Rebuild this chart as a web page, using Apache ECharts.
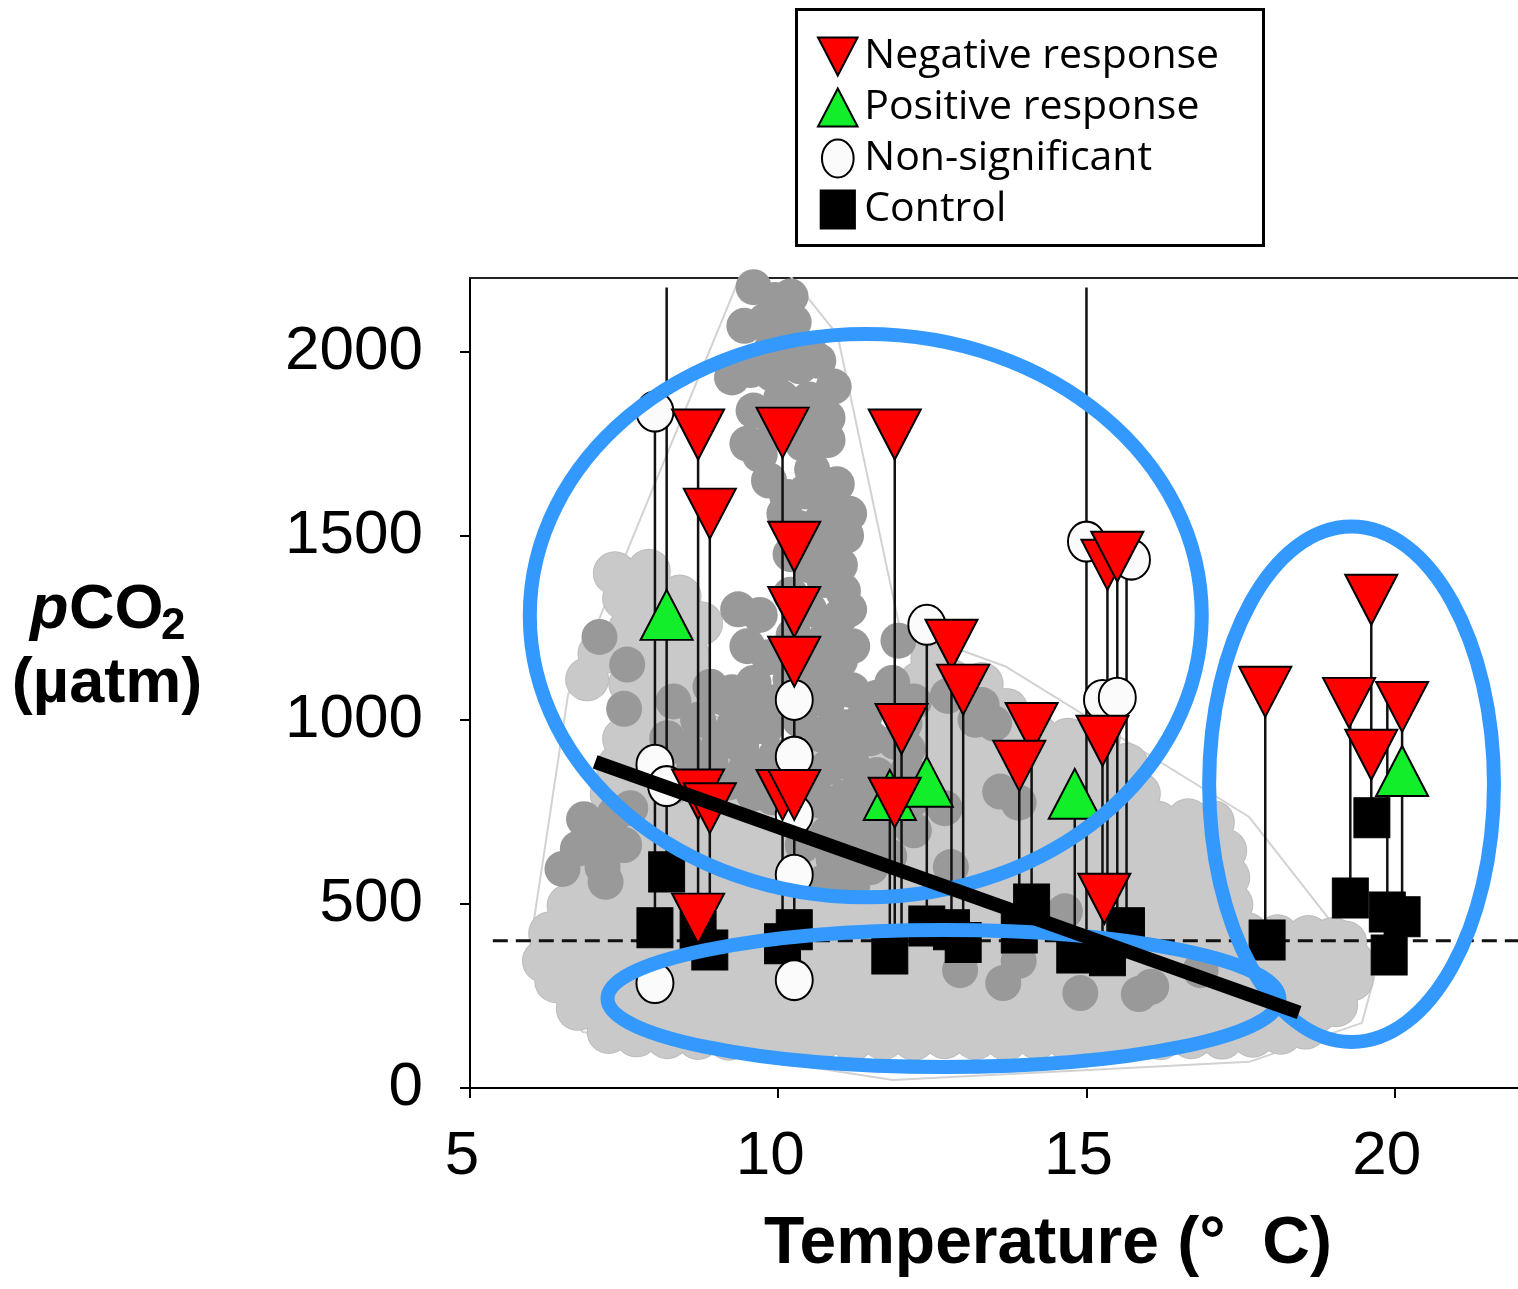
<!DOCTYPE html>
<html lang="en">
<head>
<meta charset="UTF-8">
<title>pCO2 vs temperature</title>
<script src="https://cdn.jsdelivr.net/npm/echarts@6.0.0/dist/echarts.min.js"></script>
<style>
  html, body { margin: 0; padding: 0; background: #fff; }
  #chart { width: 1518px; height: 1289px; }
</style>
</head>
<body>
<div id="chart"></div>
<script>
// ---- values ----
var xTicks = [5, 10, 15, 20];
var yTicks = [0, 500, 1000, 1500, 2000];

// experiments: [temperature, pCO2]
var negative = [
  [8.70,1775],[8.89,1560],[8.70,797],[8.89,760],[8.70,460],
  [10.07,1780],[10.26,1470],[10.26,1293],[10.26,1158],[10.07,796],[10.26,796],
  [11.89,1775],[12.00,975],[11.89,775],[12.81,1204],[13.00,1082],
  [14.11,978],[13.91,875],[15.26,943],[15.29,514],[15.34,1421],[15.50,1443],
  [17.90,1076],[19.26,1046],[19.62,1326],[20.12,1035],[19.62,905]
];
var positive = [[8.19,1285],[11.81,796],[12.41,832],[14.81,799],[20.12,861]];
var nonSignificant = [
  [8.00,1837],[8.00,878],[8.19,820],[8.00,285],
  [10.26,1054],[10.26,900],[10.26,742],[10.26,579],[10.26,293],
  [12.41,1258],[15.00,1484],[15.73,1435],[15.26,1054],[15.50,1060]
];
var control = [
  [8.00,435],[8.19,587],[8.70,425],[8.89,375],[10.07,392],[10.26,430],
  [11.81,364],[12.41,440],[12.81,430],[13.00,395],[13.91,421],[14.11,500],
  [14.81,367],[15.34,359],[15.65,435],[17.93,402],
  [19.63,734],[19.28,516],[19.88,478],[20.12,465],[19.91,361]
];
// vertical links: [temperature, low pCO2, high pCO2]
var stems = [
  [8.00,435,1837],[8.19,587,2174],[8.70,425,1775],[8.89,375,1560],
  [10.07,392,1780],[10.26,430,1470],[11.81,364,796],[11.89,364,1775],
  [12.00,389,975],[12.41,440,1258],[12.81,430,1204],[13.00,395,1082],
  [13.91,421,875],[14.11,500,978],[14.81,367,799],[15.00,380,2174],
  [15.26,359,1054],[15.34,359,1421],[15.50,435,1443],[15.65,435,1435],
  [17.90,402,1076],[19.28,516,1046],[19.62,734,1326],[19.88,478,1050],[20.12,465,1035]
];

// field observations, light grey
var lightCloud = [
  [7.25,152],[7.7,143],[8.2,138],[8.7,136],[9.2,134],[9.7,137],[10.2,133],[10.7,136],[11.2,132],[11.7,135],[12.2,134],[12.7,138],
  [13.2,135],[13.7,133],[14.2,137],[14.7,134],[15.2,136],[15.7,139],[16.2,135],[16.7,138],[17.2,137],[17.7,142],[18.15,150],[18.55,164],
  [6.75,215],[7.2,198],[7.7,196],[8.2,202],[8.7,195],[9.2,199],[9.7,203],[10.2,197],[10.7,200],[11.2,196],[11.7,202],[12.2,198],[12.7,195],
  [13.2,201],[13.7,197],[14.2,203],[14.7,199],[15.2,196],[15.7,200],[16.2,204],[16.7,198],[17.2,195],[17.7,201],[18.2,198],[18.7,205],[19.05,225],
  [6.4,290],[6.8,272],[7.2,278],[7.7,270],[8.2,276],[8.7,280],[9.2,271],[9.7,277],[10.2,274],[10.7,279],[11.2,270],[11.7,276],[12.2,281],[12.7,273],
  [13.2,277],[13.7,270],[14.2,275],[14.7,280],[15.2,272],[15.7,276],[16.2,279],[16.7,271],[17.2,277],[17.7,274],[18.2,280],[18.7,273],[19.1,278],[19.3,295],
  [6.2,345],[6.6,352],[7.0,348],[7.5,355],[8.0,346],[8.5,351],[9.0,354],[9.5,347],[10.0,352],[10.5,349],[11.0,356],[11.5,345],[12.0,350],[12.5,353],
  [13.0,347],[13.5,355],[14.0,349],[14.5,352],[15.0,346],[15.5,354],[16.0,350],[16.5,347],[17.0,353],[17.5,349],[18.0,355],[18.5,348],[19.0,352],[19.3,345],
  [6.3,420],[6.7,428],[7.1,424],[7.6,430],[8.1,421],[8.6,426],[9.1,429],[9.6,422],[10.1,427],[10.6,431],[11.1,423],[11.6,428],[12.1,425],[12.6,420],
  [13.1,429],[13.6,424],[14.1,430],[14.6,422],[15.1,427],[15.6,425],[16.1,421],[16.6,428],[17.1,424],[17.6,418],[18.1,412],[18.6,410],[19.0,405],[19.2,395],
  [6.6,495],[7.0,502],[7.5,498],[8.0,505],[8.5,497],[9.0,503],[9.5,499],[10.0,506],[10.5,496],[11.0,501],[11.5,504],[12.0,498],
  [12.5,502],[13.0,495],[13.5,500],[14.0,505],[14.5,497],[15.0,503],[15.5,499],[16.0,504],[16.5,496],[17.0,501],[17.35,498],
  [6.95,570],[7.4,578],[7.9,572],[8.4,580],[8.9,574],[9.4,569],[9.9,577],[10.4,573],[10.9,579],[11.4,571],[11.9,576],
  [12.4,580],[12.9,572],[13.4,577],[13.9,570],[14.4,575],[14.9,581],[15.4,573],[15.9,578],[16.4,571],[16.9,576],[17.3,572],
  [7.1,648],[7.55,655],[8.05,650],[8.55,644],[9.05,652],[9.55,657],[10.05,646],[10.55,653],[11.05,649],[11.55,656],[12.05,645],
  [12.55,651],[13.05,654],[13.55,647],[14.05,652],[14.55,658],[15.05,650],[15.55,644],[16.05,653],[16.55,649],[17.05,655],[17.25,645],
  [7.2,722],[7.65,728],[8.15,720],[8.65,726],[9.15,731],[9.65,723],[10.15,727],[10.65,721],[11.15,729],[11.65,724],
  [12.15,730],[12.65,722],[13.15,726],[13.65,720],[14.15,728],[14.65,723],[15.15,729],[15.65,725],[16.15,721],[16.65,727],[17.05,722],
  [7.3,798],[7.8,805],[8.3,800],[8.8,796],[9.3,803],[9.8,799],[10.3,806],[10.8,797],[11.3,802],
  [11.8,808],[12.3,799],[12.8,804],[13.3,796],[13.8,801],[14.3,807],[14.8,798],[15.3,803],[15.85,799],
  [7.4,872],[7.9,878],[8.4,870],[8.9,876],[9.4,881],[9.9,873],[10.4,879],[10.9,871],[11.4,877],
  [11.9,880],[12.4,872],[12.9,878],[13.4,874],[13.9,869],[14.4,876],[14.9,880],[15.4,873],[15.65,878],
  [7.5,948],[8.0,955],[8.5,947],[9.0,952],[12.2,950],[12.7,945],[13.2,953],[13.7,948],[14.2,955],[14.7,946],[15.2,951],
  [7.6,1022],[8.1,1028],[8.6,1020],[12.2,1025],[12.7,1030],[13.2,1021],[13.7,1027],
  [7.6,1098],[8.1,1105],[8.6,1096],[12.3,1100],[12.8,1106],[13.3,1097],
  [6.9,1110],[7.1,1180],[7.5,1172],[8.0,1178],[8.55,1170],[12.5,1165],
  [7.6,1248],[8.1,1255],[8.75,1262],
  [7.5,1330],[8.0,1322],[8.4,1335],
  [7.35,1398],[7.9,1405]
];

// field observations, dark grey
var darkCloud = [
  [9.6,2175],[9.95,2140],[10.2,2150],[9.45,2070],[9.8,2085],[10.05,2040],[9.25,1930],[9.9,1940],[10.65,1975],[10.9,1905],
  [9.6,1840],[10.05,1875],[10.8,1820],[9.5,1750],[10.2,1775],[10.8,1760],[9.85,1650],[10.15,1605],[10.95,1640],[10.9,1570],
  [10.95,1495],[11.0,1420],[11.05,1350],[11.0,1280],[11.05,1205],
  [10.1,1560],[10.45,1620],[10.7,1540],[10.2,1450],[10.5,1420],[10.75,1380],[10.2,1340],[10.5,1300],[10.8,1230],
  [10.25,1230],[10.5,1170],[10.85,1120],[10.2,1110],
  [10.4,1750],[10.5,1870],[10.35,1960],[10.55,1680],[10.35,1520],[10.65,1460],[11.1,1500],[11.15,1560],[11.15,1300],
  [11.2,1200],[10.7,1110],[11.0,1160],[9.55,1950],[9.9,2010],[10.25,2080],[9.7,1720],[9.95,1780],[10.5,2000],[10.6,1800],
  [9.35,1300],[9.7,1285],[9.5,1200],[9.85,1170],[9.6,1100],[9.25,1075],[11.95,1215],
  [8.3,1050],[8.7,1000],[9.1,1060],[9.5,1030],[9.8,980],[8.5,920],[8.9,890],[9.4,930],[9.7,870],
  [8.3,820],[8.8,800],[9.2,830],[9.6,800],[9.9,790],
  [8.9,1090],[9.3,990],[8.6,850],[9.05,950],[10.0,1050],[9.95,900],[8.2,950],[9.45,860],
  [10.8,1050],[11.2,1080],[11.6,1060],[12.0,1020],[10.7,960],[11.1,980],[11.5,950],[11.9,940],
  [10.8,870],[11.2,880],[11.6,850],[12.1,860],[10.7,780],[11.1,790],[11.5,760],[11.9,770],
  [10.8,690],[11.2,700],[11.6,680],[11.1,610],[11.5,600],[10.9,620],[12.2,700],[10.35,1000],[10.35,840],[10.4,660],
  [11.4,1010],[11.0,920],[11.4,820],[11.8,810],[11.0,740],[11.4,650],[11.8,630],[10.75,560],[11.2,550],
  [12.05,990],[11.85,1100],[12.1,920],[12.15,780],[11.75,720],
  [6.5,595],[6.75,650],[6.85,730],[7.1,690],[7.35,745],[7.15,600],[7.5,660],[7.6,760],[7.2,560],
  [7.1,1225],[7.55,1150],[7.5,1030],
  [12.2,1050],[12.75,1065],[13.3,1040],[13.5,990],[13.2,1000],[12.7,760],[13.6,805],[13.9,775],[12.8,600],
  [13.65,285],[13.9,345],[12.95,320],[14.9,258],[15.85,255],[16.05,275],[16.85,320],[14.65,480]
];

// envelope around the observations
var hull = [
  [5.92,326],[6.83,152],[11.86,22],[17.64,71],[19.47,177],[19.67,302],[17.64,736],
  [13.70,1144],[11.97,1250],[10.96,2046],[9.85,2277],[9.56,2277],[6.59,1068],[5.92,326]
];

var preindustrial = [[5.37,400],[22,400]];
var trend = [[7.03,886],[18.45,205]];

// highlighted groups: [centre temp, centre pCO2, half-width temp, half-height pCO2]
var groups = [[11.42,1283,5.45,765],[12.68,243,5.45,186],[19.30,825,2.31,700]];

// ---- chart ----
var triDown = 'path://M0,0L10,0L5,9.6Z';
var triUp = 'path://M5,0L10,9.6L0,9.6Z';
var oval = 'path://M5,0A5,6,0,1,1,5,12A5,6,0,1,1,5,0Z';
var square = 'path://M0,0H9V10H0Z';
var sans = 'Liberation Sans';

var chart = echarts.init(document.getElementById('chart'));

var option = {
  animation: false,
  backgroundColor: '#fff',
  grid: { left: 470, right: 0, top: 278, bottom: 201, outerBoundsMode: 'none' },
  legend: {
    orient: 'vertical', left: 817, top: 36, padding: 0,
    itemGap: 10, itemWidth: 43, itemHeight: 38,
    selectedMode: false,
    textStyle: { fontFamily: 'Open Sans', fontSize: 41, lineHeight: 38, color: '#000' },
    data: [
      { name: 'Negative response', icon: triDown },
      { name: 'Positive response', icon: triUp },
      { name: 'Non-significant', icon: oval },
      { name: 'Control', icon: square }
    ]
  },
  xAxis: [{
    type: 'value', min: 5, max: 22, interval: 5,
    axisLine: { show: true, onZero: false, lineStyle: { color: '#000', width: 2 } },
    axisTick: { show: true, length: 10, customValues: xTicks, lineStyle: { color: '#000', width: 2 } },
    axisLabel: { customValues: xTicks, fontFamily: sans, fontSize: 62, color: '#000', margin: 38, padding: [0, 16, 0, 0] },
    splitLine: { show: false }
  }, {
    type: 'value', position: 'top', min: 5, max: 22,
    axisLine: { show: true, onZero: false, lineStyle: { color: '#222', width: 2 } },
    axisTick: { show: false }, axisLabel: { show: false }, splitLine: { show: false }
  }],
  yAxis: {
    type: 'value', min: 0, max: 2200, interval: 500,
    axisLine: { show: true, onZero: false, lineStyle: { color: '#000', width: 2 } },
    axisTick: { show: true, length: 10, customValues: yTicks, lineStyle: { color: '#000', width: 2 } },
    axisLabel: { customValues: yTicks, fontFamily: sans, fontSize: 62, color: '#000', margin: 47,
                 formatter: function (v) { return String(v); } },
    splitLine: { show: false }
  },
  graphic: [
    { type: 'rect', z: 10, shape: { x: 796.5, y: 9.5, width: 467, height: 236 },
      style: { fill: 'transparent', stroke: '#000', lineWidth: 3 } },
    { type: 'text', z: 10, x: 30, y: 611,
      style: { text: 'p', font: 'italic bold 63px "Liberation Sans"', fill: '#000', verticalAlign: 'middle', align: 'left' } },
    { type: 'text', z: 10, x: 69, y: 611,
      style: { text: 'CO', font: 'bold 63px "Liberation Sans"', fill: '#000', verticalAlign: 'middle', align: 'left' } },
    { type: 'text', z: 10, x: 161, y: 627,
      style: { text: '2', font: 'bold 44px "Liberation Sans"', fill: '#000', verticalAlign: 'middle', align: 'left' } },
    { type: 'text', z: 10, x: 107, y: 685,
      style: { text: '(µatm)', font: 'bold 63px "Liberation Sans"', fill: '#000', verticalAlign: 'middle', align: 'center' } },
    { type: 'text', z: 10, x: 1048, y: 1245,
      style: { text: 'Temperature (°  C)', font: 'bold 66px "Liberation Sans"', fill: '#000', verticalAlign: 'middle', align: 'center' } }
  ],
  series: [
    // outline layer, then fill layer, so only the outer edge of the light cloud shows a rim
    { name: 'obs-light-rim', type: 'scatter', data: lightCloud, symbolSize: 44, z: 1, silent: true,
      itemStyle: { color: '#bcbcbc', opacity: 1 } },
    { name: 'obs-light', type: 'scatter', data: lightCloud, symbolSize: 42, z: 1, silent: true,
      itemStyle: { color: '#c9c9c9', opacity: 1 } },
    { name: 'obs-dark', type: 'scatter', data: darkCloud, symbolSize: 36, z: 1, silent: true,
      itemStyle: { color: '#999999', opacity: 1 } },
    { name: 'hull', type: 'line', data: hull, symbol: 'none', z: 1, silent: true,
      lineStyle: { color: '#d2d2d2', width: 2 } },
    { name: 'preindustrial', type: 'line', data: preindustrial, symbol: 'none', z: 2, silent: true,
      lineStyle: { color: '#111', width: 3, type: [15, 8] } },
    { name: 'stems', type: 'custom', data: stems, z: 3, silent: true,
      encode: { x: 0, y: [1, 2] },
      renderItem: function (params, api) {
        var a = api.coord([api.value(0), api.value(1)]);
        var b = api.coord([api.value(0), api.value(2)]);
        return { type: 'line', shape: { x1: a[0], y1: a[1], x2: b[0], y2: b[1] },
                 style: { stroke: '#111', lineWidth: 2.5 } };
      } },
    { name: 'Control', type: 'scatter', data: control, symbol: square, symbolSize: [36, 40], z: 4,
      itemStyle: { color: '#000', borderColor: '#000', borderWidth: 1, opacity: 1 } },
    { name: 'Non-significant', type: 'scatter', data: nonSignificant, symbol: 'circle', symbolSize: [37, 40], z: 4,
      itemStyle: { color: '#fbfbfb', borderColor: '#000', borderWidth: 2, opacity: 1 } },
    { name: 'Positive response', type: 'scatter', data: positive, symbol: triUp, symbolSize: [52, 50], z: 4,
      itemStyle: { color: '#13ee2a', borderColor: '#000', borderWidth: 2, opacity: 1 } },
    { name: 'Negative response', type: 'scatter', data: negative, symbol: triDown, symbolSize: [52, 50], z: 4,
      itemStyle: { color: '#ff0000', borderColor: '#000', borderWidth: 2, opacity: 1 } },
    { name: 'groups', type: 'custom', data: groups, z: 6, silent: true,
      encode: { x: 0, y: 1 },
      renderItem: function (params, api) {
        var c = api.coord([api.value(0), api.value(1)]);
        var s = api.size([api.value(2), api.value(3)]);
        return { type: 'ellipse', shape: { cx: c[0], cy: c[1], rx: s[0], ry: s[1] },
                 style: { fill: 'transparent', stroke: '#3399ff', lineWidth: 14 } };
      } },
    { name: 'trend', type: 'line', data: trend, symbol: 'none', z: 7, silent: true,
      lineStyle: { color: '#000', width: 14 } }
  ]
};

chart.setOption(option);
</script>
</body>
</html>
